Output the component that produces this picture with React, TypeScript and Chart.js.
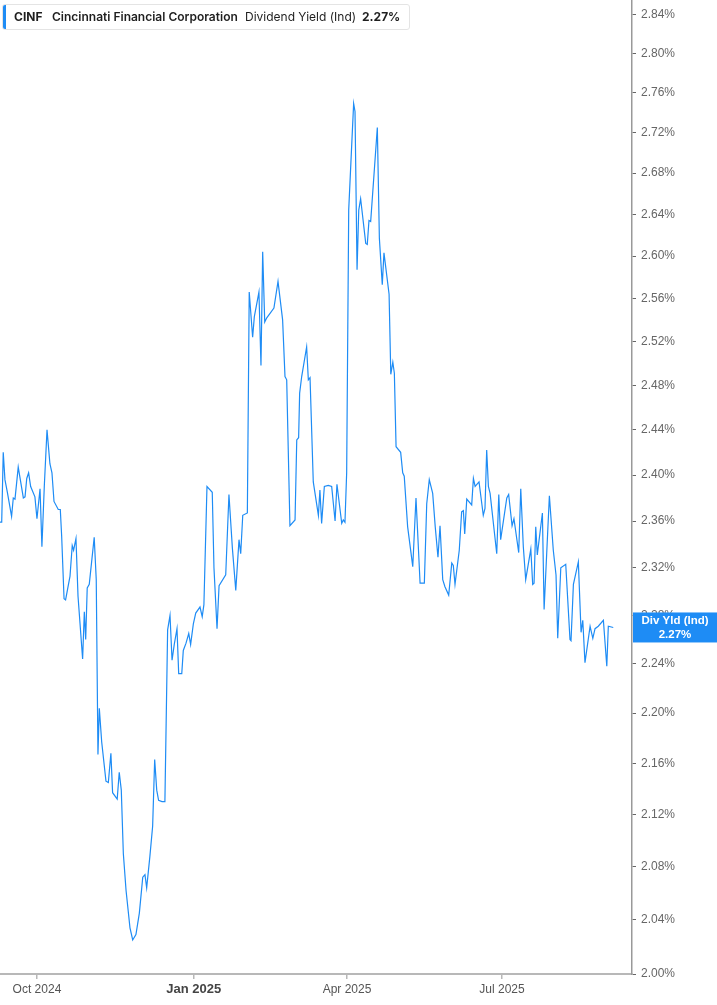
import { useEffect, useRef } from 'react';
import { Chart, registerables } from 'chart.js';

Chart.register(...registerables);

// x positions: days since 2024-10-01
const dayOffsets = [
  -21.7, -20.7, -19.8, -18.8, -17.4, -14.9, -13.9, -12.9, -11.0, -8.0,
  -7.0, -6.0, -4.9, -3.7, -1.2, 0, 1.8, 2.9, 4.3, 5.9,
  7.6, 8.8, 10.0, 12.5, 13.7, 14.5, 15.9, 16.8, 19.4, 20.7,
  21.5, 22.9, 24.1, 26.8, 27.8, 28.6, 29.5, 30.7, 33.6, 34.8,
  35.8, 36.6, 38.0, 40.5, 41.9, 43.4, 44.4, 47.1, 48.3, 49.5,
  50.7, 52.3, 54.6, 56.2, 58.1, 60.1, 62.1, 63.4, 64.4, 66.3,
  67.9, 69.1, 70.3, 71.4, 73.4, 75.1, 76.7, 78.1, 79.3, 80.6,
  82.2, 83.2, 85.0, 85.9, 87.5, 89.1, 90.2, 91.8, 93.2, 95.7,
  97.0, 98.0, 99.8, 102.9, 103.9, 105.7, 106.9, 110.8, 112.7, 114.7,
  116.7, 118.6, 119.6, 120.8, 123.5, 124.6, 126.6, 127.6, 130.3, 131.5,
  132.5, 133.7, 134.9, 139.1, 141.5, 144.2, 145.6, 146.6, 148.5, 151.5,
  152.5, 153.6, 154.2, 155.4, 158.3, 159.3, 160.3, 162.2, 165.2, 166.1,
  167.1, 168.7, 171.0, 173.0, 175.0, 176.1, 178.9, 179.8, 180.8, 181.8,
  183.0, 184.8, 185.9, 186.7, 187.9, 188.9, 190.0, 193.0, 193.9, 194.9,
  195.9, 199.8, 201.0, 202.7, 203.7, 206.7, 207.7, 208.9, 209.8, 210.8,
  213.5, 214.7, 215.6, 217.6, 220.6, 222.5, 224.9, 227.4, 228.8, 230.3,
  232.3, 233.8, 235.4, 236.6, 238.2, 239.5, 241.7, 243.5, 244.4, 245.4,
  247.9, 249.3, 250.3, 251.1, 252.3, 255.2, 256.2, 257.2, 259.5, 262.0,
  263.0, 264.0, 265.0, 266.0, 269.9, 271.1, 272.2, 275.8, 276.9, 278.9,
  280.0, 282.8, 284.0, 285.5, 286.9, 289.9, 291.0, 291.8, 292.8, 293.7,
  296.7, 297.7, 300.8, 303.1, 304.7, 305.7, 307.5, 310.4, 312.9, 313.5,
  314.9, 317.8, 319.4, 320.4, 321.7, 324.7, 326.3, 327.6, 329.5, 332.5,
  334.5, 335.4, 338.3,
];

// dividend yield (indicated), %
const divYield = [
  2.359, 2.359, 2.420, 2.396, 2.385, 2.364, 2.380, 2.379, 2.407, 2.380,
  2.381, 2.397, 2.402, 2.390, 2.381, 2.362, 2.388, 2.338, 2.390, 2.440,
  2.410, 2.402, 2.377, 2.370, 2.370, 2.347, 2.294, 2.293, 2.313, 2.339,
  2.335, 2.345, 2.296, 2.244, 2.283, 2.260, 2.303, 2.306, 2.346, 2.310,
  2.167, 2.204, 2.177, 2.146, 2.145, 2.168, 2.137, 2.132, 2.153, 2.139,
  2.090, 2.062, 2.034, 2.025, 2.029, 2.045, 2.072, 2.074, 2.064, 2.088,
  2.111, 2.163, 2.139, 2.131, 2.130, 2.130, 2.268, 2.280, 2.243, 2.256,
  2.269, 2.232, 2.232, 2.251, 2.257, 2.265, 2.256, 2.273, 2.282, 2.287,
  2.279, 2.289, 2.390, 2.385, 2.320, 2.269, 2.305, 2.314, 2.383, 2.337,
  2.301, 2.344, 2.332, 2.365, 2.367, 2.566, 2.524, 2.543, 2.566, 2.498,
  2.604, 2.538, 2.542, 2.551, 2.576, 2.540, 2.488, 2.485, 2.356, 2.361,
  2.431, 2.433, 2.473, 2.488, 2.515, 2.485, 2.487, 2.394, 2.365, 2.387,
  2.358, 2.390, 2.391, 2.390, 2.360, 2.392, 2.358, 2.361, 2.359, 2.402,
  2.644, 2.709, 2.749, 2.741, 2.587, 2.644, 2.655, 2.612, 2.611, 2.634,
  2.633, 2.725, 2.617, 2.573, 2.603, 2.564, 2.490, 2.501, 2.491, 2.425,
  2.420, 2.402, 2.399, 2.355, 2.321, 2.380, 2.307, 2.307, 2.375, 2.396,
  2.384, 2.355, 2.329, 2.356, 2.310, 2.304, 2.297, 2.324, 2.322, 2.306,
  2.335, 2.368, 2.369, 2.349, 2.379, 2.374, 2.397, 2.390, 2.394, 2.365,
  2.371, 2.422, 2.390, 2.384, 2.332, 2.383, 2.344, 2.380, 2.383, 2.356,
  2.362, 2.333, 2.388, 2.338, 2.310, 2.336, 2.306, 2.307, 2.355, 2.331,
  2.367, 2.285, 2.382, 2.335, 2.314, 2.261, 2.320, 2.323, 2.260, 2.259,
  2.306, 2.325, 2.266, 2.276, 2.241, 2.271, 2.261, 2.269, 2.271, 2.276,
  2.238, 2.271, 2.270,
];

const monthTickDays = [0, 92, 182, 273];
const monthTickLabels = ['Oct 2024', 'Jan 2025', 'Apr 2025', 'Jul 2025'];
const yTickValues = [
  2.0, 2.04, 2.08, 2.12, 2.16, 2.2, 2.24, 2.28, 2.32, 2.36, 2.4,
  2.44, 2.48, 2.52, 2.56, 2.6, 2.64, 2.68, 2.72, 2.76, 2.8, 2.84,
];

const BLUE = '#1e8cf5';
const lastValue = divYield[divYield.length - 1];

const lastValueTag = {
  id: 'lastValueTag',
  afterDraw(chart: any) {
    const { ctx, chartArea, scales } = chart;
    const y = scales.y.getPixelForValue(lastValue);
    const x0 = chartArea.right + 1;
    const w = chart.width - x0;
    ctx.save();
    ctx.fillStyle = BLUE;
    ctx.fillRect(x0, y - 15, w, 30);
    ctx.fillStyle = '#fff';
    ctx.font = 'bold 11.5px "Liberation Sans", Arial, sans-serif';
    ctx.textAlign = 'center';
    ctx.textBaseline = 'middle';
    ctx.fillText('Div Yld (Ind)', x0 + w / 2, y - 6.5);
    ctx.fillText(lastValue.toFixed(2) + '%', x0 + w / 2, y + 7);
    ctx.restore();
  },
};

function DivYieldChart() {
  const canvasRef = useRef<HTMLCanvasElement>(null);
  const chartRef = useRef<Chart | null>(null);

  useEffect(() => {
    if (!canvasRef.current) return;
    if (chartRef.current) chartRef.current.destroy();

    const points = dayOffsets.map((d, i) => ({ x: d, y: divYield[i] }));

    chartRef.current = new Chart(canvasRef.current, {
      type: 'line',
      data: {
        datasets: [
          {
            label: 'Dividend Yield (Ind)',
            data: points,
            borderColor: BLUE,
            borderWidth: 1.2,
            pointRadius: 0,
            tension: 0,
            fill: false,
          },
        ],
      },
      options: {
        animation: false,
        responsive: true,
        maintainAspectRatio: false,
        layout: { padding: 0 },
        plugins: {
          legend: { display: false },
          tooltip: { enabled: false },
        },
        scales: {
          x: {
            type: 'linear',
            min: -21.7,
            max: 349.3,
            afterBuildTicks: (scale: any) => {
              scale.ticks = monthTickDays.map((v) => ({ value: v }));
            },
            afterFit: (scale: any) => {
              scale.height = 31;
              scale.paddingLeft = 0;
              scale.paddingRight = 0;
            },
            border: { color: '#b8b8b8', width: 2 },
            grid: {
              drawOnChartArea: false,
              drawTicks: true,
              tickLength: 5,
              color: '#b8b8b8',
              lineWidth: 1.5,
            },
            ticks: {
              autoSkip: false,
              maxRotation: 0,
              padding: 3,
              callback: (value: any) => {
                const i = monthTickDays.indexOf(Number(value));
                return i >= 0 ? monthTickLabels[i] : '';
              },
              color: (ctx: any) => (ctx.tick && ctx.tick.value === 92 ? '#444' : '#555'),
              font: (ctx: any) =>
                ctx.tick && ctx.tick.value === 92
                  ? { family: '"Liberation Sans", Arial, sans-serif', size: 13, weight: 'bold' }
                  : { family: '"Liberation Sans", Arial, sans-serif', size: 12 },
            },
          },
          y: {
            type: 'logarithmic',
            position: 'right',
            min: 2.0,
            max: 2.855,
            afterBuildTicks: (scale: any) => {
              scale.ticks = yTickValues.map((v) => ({ value: v }));
            },
            afterFit: (scale: any) => {
              scale.width = 85;
              scale.paddingTop = 0;
              scale.paddingBottom = 0;
            },
            border: { color: '#999', width: 1.5 },
            grid: {
              drawOnChartArea: false,
              drawTicks: true,
              tickLength: 4,
              color: '#666',
              lineWidth: 1,
            },
            ticks: {
              autoSkip: false,
              padding: 5,
              color: '#666',
              font: { family: '"Liberation Sans", Arial, sans-serif', size: 12 },
              callback: (value: any) => Number(value).toFixed(2) + '%',
            },
          },
        },
      },
      plugins: [lastValueTag],
    });

    return () => {
      if (chartRef.current) {
        chartRef.current.destroy();
        chartRef.current = null;
      }
    };
  }, []);

  return <canvas ref={canvasRef} />;
}

const legendFont = 'Inter, "Noto Sans", sans-serif';

export default function App() {
  return (
    <div
      style={{
        position: 'fixed',
        left: 0,
        top: 0,
        width: 717,
        height: 1005,
        background: '#fff',
        overflow: 'hidden',
      }}
    >
      <div style={{ position: 'absolute', left: 0, top: 0, width: 717, height: 1005 }}>
        <DivYieldChart />
      </div>
      <div
        style={{
          position: 'absolute',
          left: 2,
          top: 4,
          width: 408,
          height: 26,
          boxSizing: 'border-box',
          background: '#fff',
          border: '1px solid #e4e4e4',
          borderRadius: 3,
          fontFamily: legendFont,
          fontSize: 12,
          color: '#1f1f1f',
          lineHeight: '24px',
          whiteSpace: 'nowrap',
        }}
      >
        <div
          style={{
            position: 'absolute',
            left: 0,
            top: 0,
            bottom: 0,
            width: 3,
            background: BLUE,
            borderRadius: '2px 0 0 2px',
          }}
        />
        <span style={{ position: 'absolute', left: 11, fontWeight: 700 }}>CINF</span>
        <span style={{ position: 'absolute', left: 49, fontWeight: 600 }}>
          Cincinnati Financial Corporation
        </span>
        <span style={{ position: 'absolute', left: 242, fontWeight: 400 }}>Dividend Yield (Ind)</span>
        <span style={{ position: 'absolute', left: 359, fontWeight: 700 }}>2.27%</span>
      </div>
    </div>
  );
}
